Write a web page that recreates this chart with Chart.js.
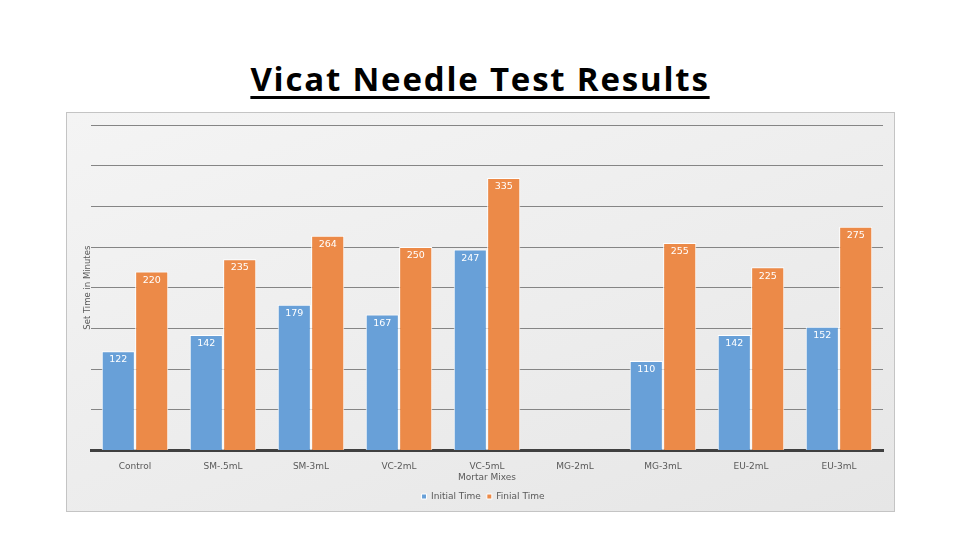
<!DOCTYPE html>
<html>
<head>
<meta charset="utf-8">
<script src="https://cdn.jsdelivr.net/npm/chart.js@4.4.0/dist/chart.umd.min.js"></script>
<style>
    body { margin: 0; width: 960px; height: 540px; background: #fff; position: relative; overflow: hidden; }
    .title {
        position: absolute; left: 0; top: 56px; width: 960px; text-align: center;
        font-family: "Open Sans", sans-serif; font-weight: bold; font-size: 33px;
        color: #000; text-decoration: underline; text-decoration-thickness: 3px; text-underline-offset: 5px;
        letter-spacing: 1.8px;
    }
    .box {
        position: absolute; left: 66px; top: 112px; width: 827px; height: 398px;
        border: 1px solid #c4c4c4;
        background: linear-gradient(160deg, #f4f4f4 0%, #ececec 60%, #e6e6e6 100%);
    }
</style>
</head>
<body>
<div class="title">Vicat Needle Test Results</div>
<div class="box"><canvas id="barChart" width="827" height="398"></canvas></div>
<script>
    const categories = ['Control', 'SM-.5mL', 'SM-3mL', 'VC-2mL', ['VC-5mL', 'Mortar Mixes'], 'MG-2mL', 'MG-3mL', 'EU-2mL', 'EU-3mL'];
    const initialTime = [122, 142, 179, 167, 247, null, 110, 142, 152];
    const finalTime = [220, 235, 264, 250, 335, null, 255, 225, 275];
    const yTicks = [0, 50, 100, 150, 200, 250, 300, 350, 400];

    const colors = {
        blue: '#68a0d8',
        orange: '#ec8a48',
        grid: '#858585',
        axis: '#404040',
        text: '#595959'
    };

    // white value labels just inside the top of each bar
    const valueLabels = {
        id: 'valueLabels',
        afterDatasetsDraw(chart) {
            const ctx = chart.ctx;
            ctx.save();
            ctx.font = '9.5px "DejaVu Sans", sans-serif';
            ctx.fillStyle = '#ffffff';
            ctx.textAlign = 'center';
            ctx.textBaseline = 'top';
            chart.data.datasets.forEach((ds, i) => {
                chart.getDatasetMeta(i).data.forEach((bar, j) => {
                    if (ds.data[j] == null) return;
                    ctx.fillText(ds.data[j], bar.x, bar.y + 4);
                });
            });
            ctx.restore();
        }
    };

    new Chart(document.getElementById('barChart').getContext('2d'), {
        type: 'bar',
        data: {
            labels: categories,
            datasets: [{
                label: 'Initial Time',
                data: initialTime,
                backgroundColor: colors.blue,
                borderColor: '#ffffff',
                borderWidth: 1
            }, {
                label: 'Finial Time',
                data: finalTime,
                backgroundColor: colors.orange,
                borderColor: '#ffffff',
                borderWidth: 1
            }]
        },
        options: {
            responsive: false,
            animation: false,
            layout: { padding: { left: 16, right: 11, top: 12, bottom: 0 } },
            datasets: { bar: { categoryPercentage: 0.76, barPercentage: 0.99 } },
            plugins: {
                tooltip: { enabled: false },
                legend: {
                    position: 'bottom',
                    labels: {
                        color: colors.text, boxWidth: 5, boxHeight: 5, padding: 6,
                        font: { size: 9, family: '"DejaVu Sans", sans-serif' }
                    }
                }
            },
            scales: {
                y: {
                    min: 0, max: 400,
                    afterBuildTicks: (axis) => { axis.ticks = yTicks.map(v => ({ value: v })); },
                    afterFit: (axis) => { axis.width = 8; },
                    ticks: { display: false },
                    border: { display: false },
                    grid: { color: colors.grid, lineWidth: 1, drawTicks: false },
                    title: {
                        display: true, text: 'Set Time in Minutes', color: colors.text, padding: 0,
                        font: { size: 8.5, family: '"DejaVu Sans", sans-serif' }
                    }
                },
                x: {
                    border: { display: true, color: colors.axis, width: 3 },
                    grid: { display: false },
                    ticks: {
                        color: colors.text, padding: 3, maxRotation: 0,
                        font: { size: 9, family: '"DejaVu Sans", sans-serif' }
                    }
                }
            }
        },
        plugins: [valueLabels]
    });
</script>
</body>
</html>
